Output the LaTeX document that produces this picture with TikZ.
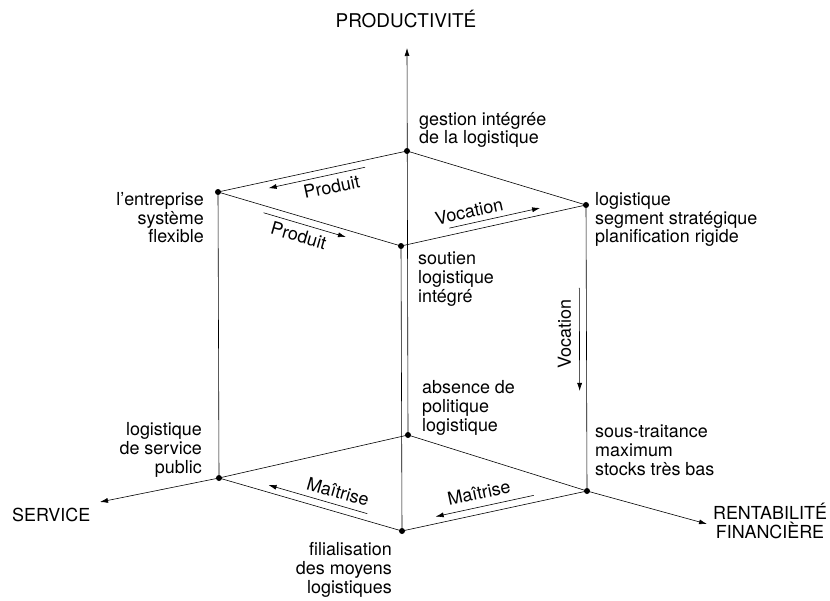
\documentclass[tikz,border=0pt]{standalone}
\usepackage{fontspec}
\setmainfont{TeX Gyre Heros}
\usetikzlibrary{calc,arrows.meta}

\begin{document}
\begin{tikzpicture}[x=1bp,y=-1bp,
	dot/.style={circle,fill,inner sep=0pt,minimum size=6bp},
	lbl/.style={inner sep=0pt,font=\fontsize{18}{19}\selectfont},
	edge/.style={line width=0.6bp},
	flow/.style={line width=0.6bp,-{Latex[length=8bp,width=5bp]}}]
\useasboundingbox (0,0) rectangle (830,601);
% bottom face
\node[dot](O) at (408,435){};
\node[dot](L) at (219,478){};
\node[dot](F) at (402,531){};
\node[dot](R) at (587,491){};
% top face
\node[dot](T) at (407,151){};
\node[dot](LT) at (218,192){};
\node[dot](FT) at (401,246){};
\node[dot](RT) at (586,205){};
% axis ends
\coordinate(up) at (407,48);
\coordinate(lft) at (100,502);
\coordinate(rgt) at (707,524);

\draw[flow](O.center)--(up);
\draw[flow](O.center)--(L.center)--(lft);
\draw[flow](O.center)--(R.center)--(rgt);
\draw[edge](L.center)--(F.center)--(R.center);
\draw[edge](LT.center)--(T.center)--(RT.center)--(FT.center)--cycle;
\draw[edge](LT)--(L) (FT)--(F) (RT)--(R);

% axis names (base = last line)
\node[lbl,anchor=base,font=\fontsize{19}{19}\selectfont](prod) at (406,28){PRODUCTIVITÉ};
\node[lbl,anchor=base west](serv) at (12,521){SERVICE};
\node[lbl,anchor=base,align=center](rent) at (770,538){RENTABILITÉ\\FINANCIÈRE};

% corner texts
\node[lbl,anchor=base west,align=left](tTxt) at ([shift={(12,-7)}]T){gestion intégrée\\de la logistique};
\node[lbl,anchor=base east,align=right](ltTxt) at ([shift={(-14,51)}]LT){l'entreprise\\système\\flexible};
\node[lbl,anchor=base west,align=left](rtTxt) at ([shift={(9,38)}]RT){logistique\\segment stratégique\\planification rigide};
\node[lbl,anchor=base west,align=left](ftTxt) at ([shift={(17,56)}]FT){soutien\\logistique\\intégré};
\node[lbl,anchor=base west,align=left](oTxt) at ([shift={(14,-4)}]O){absence de\\politique\\logistique};
\node[lbl,anchor=base east,align=right](lTxt) at ([shift={(-17,-5)}]L){logistique\\de service\\public};
\node[lbl,anchor=base west,align=left](rTxt) at ([shift={(8,-16)}]R){sous-traitance\\maximum\\stocks très bas};
\node[lbl,anchor=base east,align=right](fTxt) at ([shift={(-10,62)}]F){filialisation\\des moyens\\logistiques};

% flows along the edges
\draw[flow]($(T)!0.23!(LT)!7bp!90:(LT)$)--($(T)!0.74!(LT)!7bp!90:(LT)$);
\node[lbl,rotate=12](prod1) at ($(T)!0.42!(LT)!19bp!90:(LT)$){Produit};
\draw[flow]($(LT)!0.26!(FT)!7bp!-90:(FT)$)--($(LT)!0.71!(FT)!7bp!-90:(FT)$);
\node[lbl,rotate=-16](prod2) at ($(LT)!0.47!(FT)!19bp!-90:(FT)$){Produit};
\draw[flow]($(FT)!0.27!(RT)!7bp!90:(RT)$)--($(FT)!0.76!(RT)!7bp!90:(RT)$);
\node[lbl,rotate=12.5](voc1) at ($(FT)!0.39!(RT)!19bp!90:(RT)$){Vocation};
\draw[flow]($(RT)!0.29!(R)!7bp!-90:(R)$)--($(RT)!0.65!(R)!7bp!-90:(R)$);
\node[lbl,rotate=90](voc2) at ($(RT)!0.45!(R)!22bp!-90:(R)$){Vocation};
\draw[flow]($(F)!0.2!(L)!7bp!-90:(L)$)--($(F)!0.74!(L)!7bp!-90:(L)$);
\node[lbl,rotate=-16](mait1) at ($(F)!0.38!(L)!20bp!-90:(L)$){Maîtrise};
\draw[flow]($(R)!0.28!(F)!7bp!-90:(F)$)--($(R)!0.81!(F)!7bp!-90:(F)$);
\node[lbl,rotate=12](mait2) at ($(R)!0.56!(F)!21bp!-90:(F)$){Maîtrise};
\end{tikzpicture}
\end{document}
